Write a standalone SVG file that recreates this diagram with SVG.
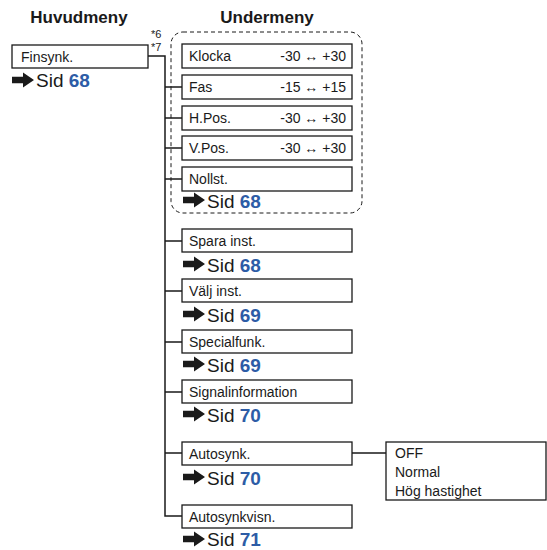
<svg xmlns="http://www.w3.org/2000/svg" width="547" height="550" viewBox="0 0 547 550">
<defs>
<style>
text{font-family:"Liberation Sans",Arial,sans-serif;fill:#1a1a1a}
.title{font-size:17px;font-weight:bold;text-anchor:middle}
.box{fill:#fff;stroke:#1a1a1a;stroke-width:1.3}
.lbl{font-size:14px}
.rng{font-size:14px;text-anchor:end}
.sid{font-size:19px}
.num{font-weight:bold;fill:#2d5ca6}
.note{font-size:11px}
.conn{fill:none;stroke:#1a1a1a;stroke-width:1.5}
</style>
<path id="arr" d="M0,-3.2 H11 V-7.5 L22,0 L11,7.5 V3.2 H0 Z" fill="#1a1a1a"/>
</defs>
<text class="title" x="79" y="23">Huvudmeny</text>
<text class="title" x="267" y="23">Undermeny</text>
<rect x="171" y="32" width="191" height="181" rx="12" fill="none" stroke="#1a1a1a" stroke-width="1" stroke-dasharray="4 3"/>
<g id="connectors">
<path class="conn" d="M148,56 H165 V516 H182"/>
<path class="conn" d="M165,87 H182 M165,118 H182 M165,148 H182 M165,179 H182 M165,241 H182 M165,291 H182 M165,342 H182 M165,392 H182 M165,453 H182 M352,453 H386"/>
</g>
<g id="finsynk">
<rect class="box" x="12" y="45" width="136" height="23"/>
<text class="lbl" x="21" y="62">Finsynk.</text>
<use href="#arr" x="12" y="80"/>
<text class="sid" x="36" y="87">Sid <tspan class="num">68</tspan></text>
<text class="note" x="151" y="38">*6</text>
<text class="note" x="151" y="51">*7</text>
</g>
<g id="klocka">
<rect class="box" x="182" y="44" width="170" height="24"/>
<text class="lbl" x="189" y="61">Klocka</text>
<text class="rng" x="346" y="61">-30 ↔ +30</text>
</g>
<g id="fas">
<rect class="box" x="182" y="75" width="170" height="24"/>
<text class="lbl" x="189" y="92">Fas</text>
<text class="rng" x="346" y="92">-15 ↔ +15</text>
</g>
<g id="hpos">
<rect class="box" x="182" y="106" width="170" height="24"/>
<text class="lbl" x="189" y="123">H.Pos.</text>
<text class="rng" x="346" y="123">-30 ↔ +30</text>
</g>
<g id="vpos">
<rect class="box" x="182" y="136" width="170" height="24"/>
<text class="lbl" x="189" y="153">V.Pos.</text>
<text class="rng" x="346" y="153">-30 ↔ +30</text>
</g>
<g id="nollst">
<rect class="box" x="182" y="167" width="170" height="24"/>
<text class="lbl" x="189" y="184">Nollst.</text>
<use href="#arr" x="183" y="200"/>
<text class="sid" x="207" y="208">Sid <tspan class="num">68</tspan></text>
</g>
<g id="spara">
<rect class="box" x="182" y="229" width="170" height="23"/>
<text class="lbl" x="189" y="246">Spara inst.</text>
<use href="#arr" x="183" y="264"/>
<text class="sid" x="207" y="272">Sid <tspan class="num">68</tspan></text>
</g>
<g id="valj">
<rect class="box" x="182" y="279" width="170" height="23"/>
<text class="lbl" x="189" y="296">Välj inst.</text>
<use href="#arr" x="183" y="314"/>
<text class="sid" x="207" y="322">Sid <tspan class="num">69</tspan></text>
</g>
<g id="special">
<rect class="box" x="182" y="330" width="170" height="23"/>
<text class="lbl" x="189" y="347">Specialfunk.</text>
<use href="#arr" x="183" y="364"/>
<text class="sid" x="207" y="372">Sid <tspan class="num">69</tspan></text>
</g>
<g id="signal">
<rect class="box" x="182" y="380" width="170" height="23"/>
<text class="lbl" x="189" y="397">Signalinformation</text>
<use href="#arr" x="183" y="414"/>
<text class="sid" x="207" y="422">Sid <tspan class="num">70</tspan></text>
</g>
<g id="autosynk">
<rect class="box" x="182" y="442" width="170" height="23"/>
<text class="lbl" x="189" y="459">Autosynk.</text>
<use href="#arr" x="183" y="477"/>
<text class="sid" x="207" y="485">Sid <tspan class="num">70</tspan></text>
</g>
<g id="options">
<rect class="box" x="386" y="442" width="160" height="58"/>
<text class="lbl" x="395" y="458">OFF</text>
<text class="lbl" x="395" y="477">Normal</text>
<text class="lbl" x="395" y="496">Hög hastighet</text>
</g>
<g id="autosynkvisn">
<rect class="box" x="182" y="505" width="170" height="23"/>
<text class="lbl" x="189" y="522">Autosynkvisn.</text>
<use href="#arr" x="183" y="539"/>
<text class="sid" x="207" y="546">Sid <tspan class="num">71</tspan></text>
</g>
</svg>
